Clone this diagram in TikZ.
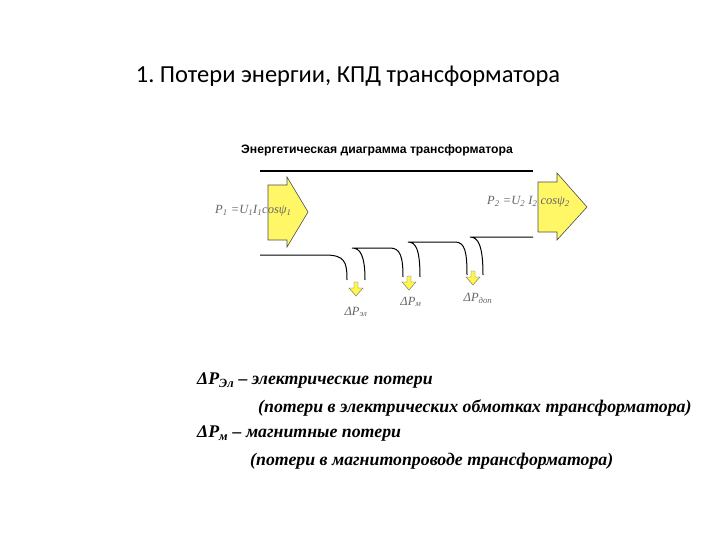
\documentclass[tikz,border=0pt]{standalone}
\usepackage{fontspec}
\setmainfont{Liberation Serif}
\newfontfamily\calfnt{Carlito}
\newfontfamily\arl{Liberation Sans}
\begin{document}
\begin{tikzpicture}[x=1pt,y=-1pt,
  arr/.style={draw=black!70,fill=yellow!60,line width=0.6pt},
  flow/.style={line width=1pt},
  small/.style={draw=black!60,fill=yellow!70,line width=0.4pt},
  lbl/.style={font=\itshape\fontsize{12.5}{14}\selectfont,text=black!60,inner sep=0pt}]
\useasboundingbox (0,0) rectangle (720,540);
\node (title) at (348,76) {\calfnt\fontsize{24.5}{28}\selectfont 1.~Потери энергии, КПД трансформатора};
\node (sub) at (377,150) {\arl\bfseries\fontsize{12.2}{14}\selectfont Энергетическая диаграмма трансформатора};
\draw[line width=1.5pt] (260,171) -- (533,171);
\draw[arr] (268,185) -- (287,185) -- (287,177) -- (308,212) -- (287,247) -- (287,240) -- (268,240) -- cycle;
\draw[arr] (538,182) -- (557,182) -- (557,173) -- (587,207) -- (557,240) -- (557,232) -- (538,232) -- cycle;
\node[lbl,anchor=west] (p1) at (215,211) {P\textsubscript{1} =U\textsubscript{1}I\textsubscript{1}cosψ\textsubscript{1}};
\node[lbl,anchor=east] (p2) at (570,202) {P\textsubscript{2} =U\textsubscript{2} I\textsubscript{2} cosψ\textsubscript{2}};
\draw[flow] (260,255) -- (325,255) .. controls (345,255) and (347,262) .. (347,280);
\draw[flow] (365,280) .. controls (365,255) and (360,248) .. (352,248) -- (390,248) .. controls (400,248) and (403,256) .. (403,277);
\draw[flow] (420,277) .. controls (420,250) and (416,242) .. (408,242) -- (455,242) .. controls (465,242) and (467,252) .. (467,275);
\draw[flow] (483,275) .. controls (483,245) and (478,237) .. (470,237) -- (533,237);
\foreach \n/\x/\y in {a/356/282,b/409/276,c/473/271}{
  \draw[small] (\x-2,\y) -- (\x+2,\y) -- (\x+2,\y+6) -- (\x+7,\y+6) -- (\x,\y+14) -- (\x-7,\y+6) -- (\x-2,\y+6) -- cycle;}
\node[lbl] (d1) at (356,312) {ΔP\textsubscript{эл}};
\node[lbl] (d2) at (411,302) {ΔP\textsubscript{м}};
\node[lbl] (d3) at (478,298) {ΔP\textsubscript{доп}};
\begin{scope}[every node/.style={anchor=west,inner sep=0pt,font=\bfseries\itshape\fontsize{17.8}{20}\selectfont}]
\node (t1) at (197,381) {ΔP\textsubscript{Эл} – электрические потери};
\node (t2) at (258,408) {(потери в электрических обмотках трансформатора)};
\node (t3) at (197,434) {ΔP\textsubscript{м} – магнитные потери};
\node (t4) at (250,461) {(потери в магнитопроводе трансформатора)};
\end{scope}
\end{tikzpicture}
\end{document}
